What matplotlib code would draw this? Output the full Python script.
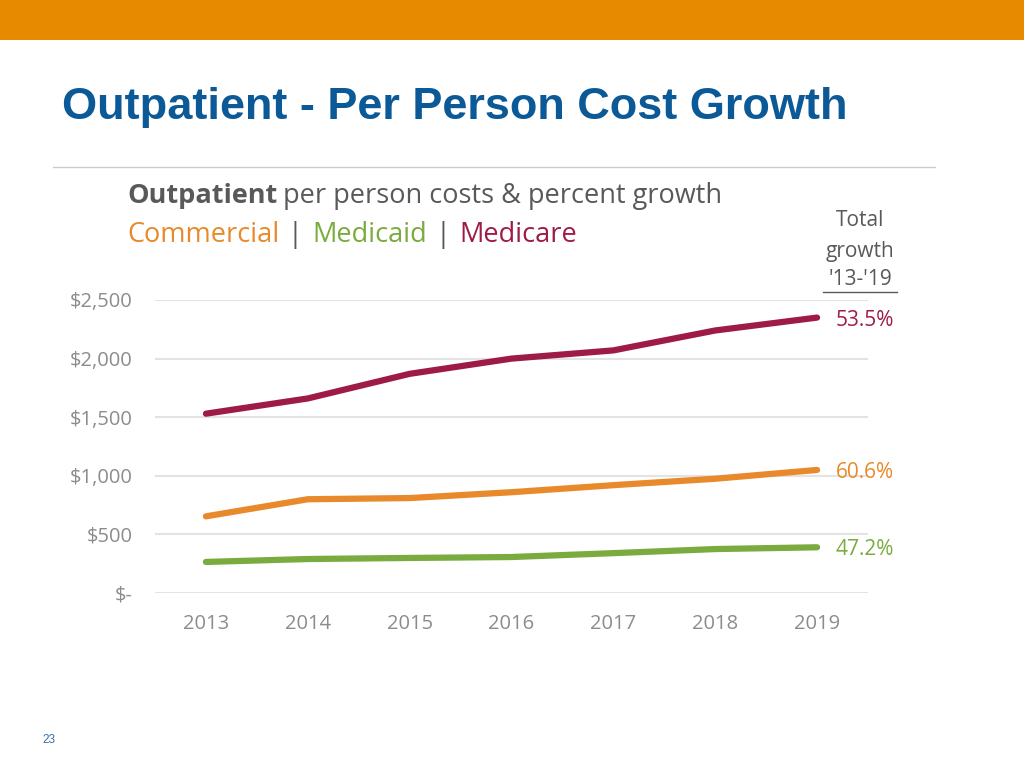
import matplotlib.pyplot as plt
from matplotlib.lines import Line2D
from matplotlib.patches import Rectangle

years = ['2013', '2014', '2015', '2016', '2017', '2018', '2019']
medicare = [1530, 1660, 1870, 2000, 2070, 2240, 2350]
commercial = [654, 800, 810, 860, 920, 975, 1050]
medicaid = [265, 290, 299, 307, 340, 375, 390]
growth = ['53.5%', '60.6%', '47.2%']
yticks = [0, 500, 1000, 1500, 2000, 2500]
ylabels = ['$-', '$500', '$1,000', '$1,500', '$2,000', '$2,500']

c_medicare = '#9E1B47'
c_commercial = '#E8892B'
c_medicaid = '#7AAB3E'
grey = '#595959'
tick_grey = '#8C8C8C'
fnt = ['Open Sans', 'DejaVu Sans']

fig = plt.figure(figsize=(10.24, 7.68), dpi=100)

# slide decoration
fig.add_artist(Rectangle((0, 1 - 40/768), 1, 40/768, transform=fig.transFigure,
                         color='#E88A00', lw=0))
fig.add_artist(Line2D([53/1024, 935/1024], [1 - 167/768] * 2, transform=fig.transFigure,
                      color='#CCCCCC', lw=1))
fig.text(62/1024, 1 - 107/768, 'Outpatient - Per Person Cost Growth', fontsize=32.5,
         fontweight='bold', color='#0B5A97', va='center',
         family=['Liberation Sans Narrow', 'Liberation Sans', 'DejaVu Sans'])
fig.text(42/1024, 1 - 740/768, '23', fontsize=8.5, color='#3A6EA5', va='center',
         family=['Liberation Sans', 'DejaVu Sans'])

# chart headings
fs_head = 19.5
t = fig.text(127/1024, 1 - 196/768, 'Outpatient', fontsize=fs_head, fontweight='bold',
             color=grey, va='center', family=fnt)
fig.canvas.draw()
r = fig.canvas.get_renderer()
bb = t.get_window_extent(r)
fig.text((bb.x1 + 6)/1024, 1 - 196/768, 'per person costs & percent growth', fontsize=fs_head,
         color=grey, va='center', family=fnt)

x0 = 127
for txt, col in [('Commercial', c_commercial), (' | ', grey), ('Medicaid', c_medicaid),
                 (' | ', grey), ('Medicare', c_medicare)]:
    tt = fig.text(x0/1024, 1 - 235/768, txt, fontsize=fs_head, color=col, va='center', family=fnt)
    fig.canvas.draw()
    x0 = tt.get_window_extent(r).x1 + 2

for txt, yy in [('Total', 221), ('growth', 251), ("'13-'19", 280)]:
    fig.text(860/1024, 1 - yy/768, txt, fontsize=15, color=grey, ha='center',
             va='center', family=fnt)
fig.add_artist(Line2D([823/1024, 897/1024], [1 - 292/768] * 2, transform=fig.transFigure,
                      color=grey, lw=1))

# chart
ax = fig.add_axes([155/1024, 1 - 593/768, 713/1024, 293/768])
x = list(range(len(years)))
for vals, col, g in [(medicare, c_medicare, growth[0]), (commercial, c_commercial, growth[1]),
                     (medicaid, c_medicaid, growth[2])]:
    ax.plot(x, vals, color=col, lw=4.5, solid_capstyle='round', clip_on=False, zorder=3)
    ax.text(x[-1] + 0.18, vals[-1] - 22, g, color=col, fontsize=15, va='center', family=fnt)

ax.set_xlim(-0.5, 6.5)
ax.set_ylim(0, 2500)
ax.set_yticks(yticks)
ax.set_yticklabels(ylabels)
ax.set_xticks(x)
ax.set_xticklabels(years)
ax.grid(axis='y', color='#E3E3E3', lw=1.5)
ax.set_axisbelow(True)
for s in ax.spines.values():
    s.set_visible(False)
ax.tick_params(length=0, colors=tick_grey, labelsize=14.5)
ax.tick_params(axis='y', pad=16)
ax.tick_params(axis='x', pad=15)
for lab in ax.get_xticklabels() + ax.get_yticklabels():
    lab.set_family(fnt)

fig.savefig('out.png', dpi=100)
